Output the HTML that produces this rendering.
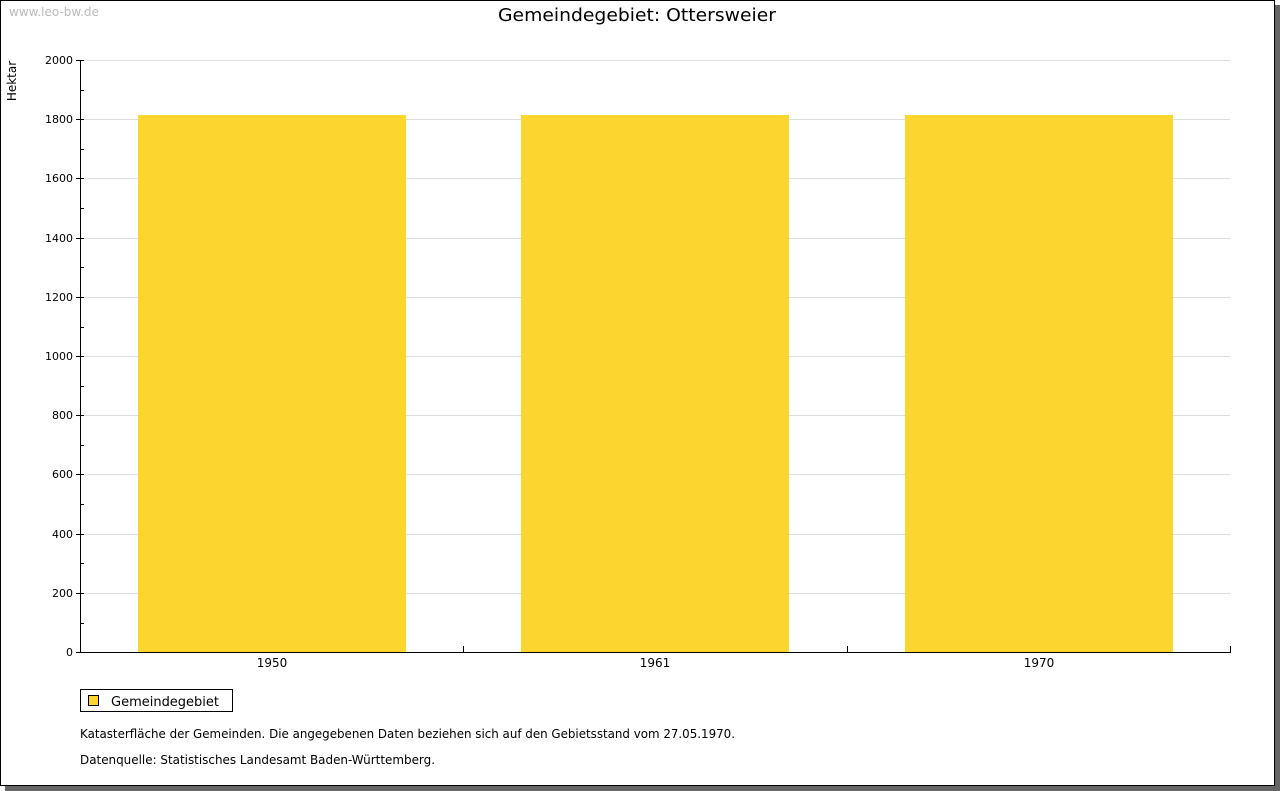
<!DOCTYPE html>
<html><head><meta charset="utf-8"><style>
html,body{margin:0;padding:0;background:#fff;}
svg{display:block;font-family:"DejaVu Sans","Liberation Sans",sans-serif;}
</style></head><body>
<svg width="1280" height="791" viewBox="0 0 1280 791" xmlns="http://www.w3.org/2000/svg">
<rect x="0" y="0" width="1280" height="791" fill="#fff"/>
<rect x="1275" y="5" width="5" height="786" fill="#666"/>
<rect x="5" y="786" width="1275" height="5" fill="#666"/>
<rect x="0.5" y="0.5" width="1274" height="785" fill="none" stroke="#000" stroke-width="1"/>
<text x="9" y="16" font-size="12" fill="#bbb">www.leo-bw.de</text>
<text x="637" y="21" font-size="18" text-anchor="middle" fill="#000" textLength="278" lengthAdjust="spacingAndGlyphs">Gemeindegebiet: Ottersweier</text>
<text transform="translate(16,81) rotate(-90)" font-size="12" text-anchor="middle" fill="#000">Hektar</text>
<g stroke="#ddd" stroke-width="1">
<line x1="80" x2="1230" y1="60.5" y2="60.5"/>
<line x1="80" x2="1230" y1="119.5" y2="119.5"/>
<line x1="80" x2="1230" y1="178.5" y2="178.5"/>
<line x1="80" x2="1230" y1="238.5" y2="238.5"/>
<line x1="80" x2="1230" y1="297.5" y2="297.5"/>
<line x1="80" x2="1230" y1="356.5" y2="356.5"/>
<line x1="80" x2="1230" y1="415.5" y2="415.5"/>
<line x1="80" x2="1230" y1="474.5" y2="474.5"/>
<line x1="80" x2="1230" y1="534.5" y2="534.5"/>
<line x1="80" x2="1230" y1="593.5" y2="593.5"/>
</g>
<g fill="#fcd62f">
<rect x="138" y="115" width="268" height="537"/>
<rect x="521" y="115" width="268" height="537"/>
<rect x="905" y="115" width="268" height="537"/>
</g>
<g stroke="#000" stroke-width="1">
<line x1="80.5" y1="60" x2="80.5" y2="653"/>
<line x1="80" y1="652.5" x2="1231" y2="652.5"/>
<line x1="463.5" y1="646" x2="463.5" y2="652"/>
<line x1="847.5" y1="646" x2="847.5" y2="652"/>
<line x1="1230.5" y1="646" x2="1230.5" y2="652"/>
<g>
<line x1="76" x2="84" y1="60.5" y2="60.5"/><line x1="76" x2="84" y1="119.5" y2="119.5"/>
<line x1="76" x2="84" y1="178.5" y2="178.5"/><line x1="76" x2="84" y1="238.5" y2="238.5"/>
<line x1="76" x2="84" y1="297.5" y2="297.5"/><line x1="76" x2="84" y1="356.5" y2="356.5"/>
<line x1="76" x2="84" y1="415.5" y2="415.5"/><line x1="76" x2="84" y1="474.5" y2="474.5"/>
<line x1="76" x2="84" y1="534.5" y2="534.5"/><line x1="76" x2="84" y1="593.5" y2="593.5"/>
<line x1="76" x2="84" y1="652.5" y2="652.5"/>
<line x1="80" x2="84" y1="90.5" y2="90.5"/><line x1="80" x2="84" y1="149.5" y2="149.5"/>
<line x1="80" x2="84" y1="208.5" y2="208.5"/><line x1="80" x2="84" y1="267.5" y2="267.5"/>
<line x1="80" x2="84" y1="327.5" y2="327.5"/><line x1="80" x2="84" y1="386.5" y2="386.5"/>
<line x1="80" x2="84" y1="445.5" y2="445.5"/><line x1="80" x2="84" y1="504.5" y2="504.5"/>
<line x1="80" x2="84" y1="563.5" y2="563.5"/><line x1="80" x2="84" y1="623.5" y2="623.5"/>
</g>
</g>
<g font-size="11" text-anchor="end" fill="#000">
<text x="73" y="64">2000</text><text x="73" y="123">1800</text><text x="73" y="182">1600</text>
<text x="73" y="242">1400</text><text x="73" y="301">1200</text><text x="73" y="360">1000</text>
<text x="73" y="419">800</text><text x="73" y="478">600</text><text x="73" y="538">400</text>
<text x="73" y="597">200</text><text x="73" y="656">0</text>
</g>
<g font-size="12" text-anchor="middle" fill="#000">
<text x="272" y="667">1950</text><text x="655" y="667">1961</text><text x="1039" y="667">1970</text>
</g>
<rect x="80.5" y="689.5" width="152" height="22" fill="#fff" stroke="#000"/>
<rect x="88.5" y="695.5" width="10" height="10" fill="#fcd62f" stroke="#000"/>
<text x="111" y="706" font-size="13" fill="#000" textLength="108" lengthAdjust="spacingAndGlyphs">Gemeindegebiet</text>
<text x="80" y="738" font-size="12" fill="#000" textLength="655" lengthAdjust="spacingAndGlyphs">Katasterfläche der Gemeinden. Die angegebenen Daten beziehen sich auf den Gebietsstand vom 27.05.1970.</text>
<text x="80" y="764" font-size="12" fill="#000" textLength="355" lengthAdjust="spacingAndGlyphs">Datenquelle: Statistisches Landesamt Baden-Württemberg.</text>
</svg>
</body></html>
